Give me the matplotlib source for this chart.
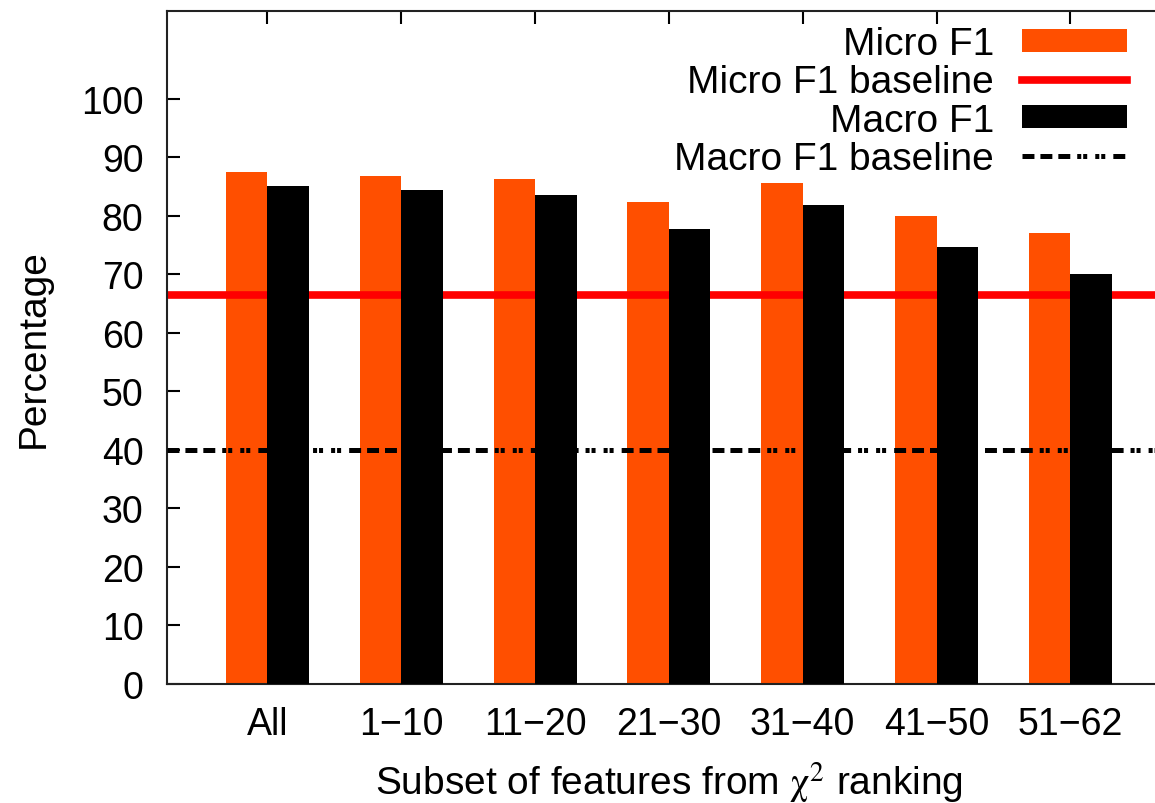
import numpy as np
import matplotlib.pyplot as plt

plt.rcParams['font.family'] = ['Liberation Sans', 'DejaVu Sans']
plt.rcParams['mathtext.fontset'] = 'stix'
plt.rcParams['lines.scale_dashes'] = False

# F1 scores per feature subset (percent)
subsets = ['All', '1\u221210', '11\u221220', '21\u221230', '31\u221240', '41\u221250', '51\u221262']
micro_f1 = [87.5, 86.8, 86.3, 82.3, 85.5, 79.9, 77.0]
macro_f1 = [85.1, 84.3, 83.5, 77.8, 81.8, 74.6, 70.0]
micro_baseline = 66.4
macro_baseline = 40.0

orange = '#ff4f00'
fs_tick = 27
fs = 28

fig = plt.figure(figsize=(11.55, 8.04), dpi=100)
ax = fig.add_axes([0.1446, 0.148, 0.869, 0.8374])

x = np.arange(len(subsets))
w = 0.31
b1 = ax.bar(x - w / 2, micro_f1, w, color=orange, zorder=1)
l1 = ax.axhline(micro_baseline, color='#ff0000', lw=5.5, zorder=2)
b2 = ax.bar(x + w / 2, macro_f1, w, color='black', zorder=3)
dash = (0, (8.6, 4.3, 8.6, 4.3, 8.6, 5, 2.9, 1.4, 2.9, 5.8, 2.9, 1.4, 2.9, 5.8))
l2 = ax.axhline(macro_baseline, color='black', lw=3.6, ls=dash, zorder=4)

ax.set_xlim(-0.75, 6.75)
ax.set_ylim(0, 115)
ax.set_yticks(np.arange(0, 101, 10))
ax.set_xticks(x, subsets)
# tics only on the top border, labels stay at the bottom
ax.tick_params(axis='x', bottom=False, top=True, direction='in', length=9, width=1.5,
               pad=16, labelsize=fs_tick)
ax.tick_params(axis='y', direction='in', length=9, width=1.5, pad=17,
               labelsize=fs_tick, right=True)

for s in ax.spines.values():
    s.set_linewidth(1.5)
    s.set_color('#222222')

ax.set_ylabel('Percentage', fontsize=fs, labelpad=21)
ax.set_xlabel(r'Subset of features from $\mathrm{\chi}^2$ ranking', fontsize=fs, labelpad=12)

ax.legend([b1, l1, b2, l2],
          ['Micro F1', 'Micro F1 baseline', 'Macro F1', 'Macro F1 baseline'],
          loc='upper right', bbox_to_anchor=(1127 / 1155, 1 - 27 / 804),
          bbox_transform=fig.transFigure, frameon=False, markerfirst=False,
          fontsize=fs, handlelength=2.7, handleheight=0.54, handletextpad=0.72,
          labelspacing=0.06, borderpad=0, borderaxespad=0)

fig.savefig('out.png', dpi=100)
